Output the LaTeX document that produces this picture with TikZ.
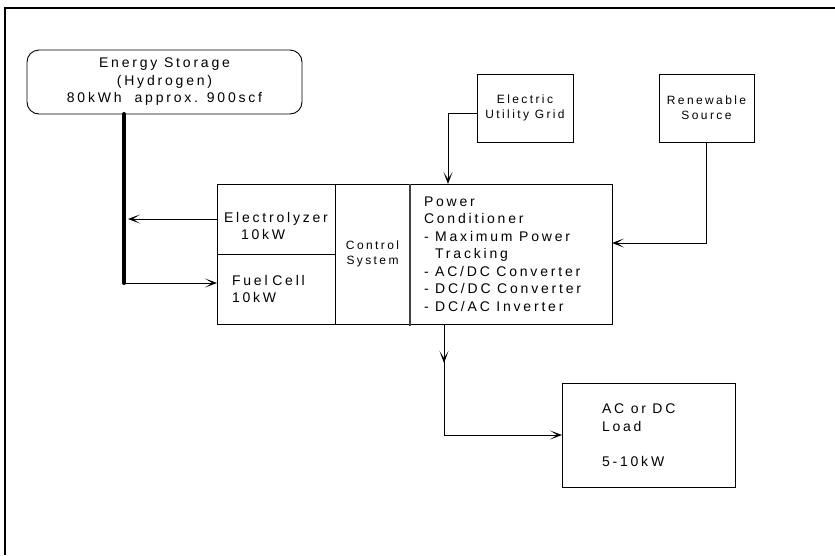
\documentclass[tikz,border=0pt]{standalone}
\usepackage{fontspec}
\setmainfont{Liberation Sans}[LetterSpace=20]
\usetikzlibrary{positioning,arrows.meta}

\newcommand{\bigtext}{\fontsize{14}{17.5}\selectfont}
\newcommand{\smalltext}{\fontsize{12}{15}\selectfont}
\newcommand{\widesp}{\spaceskip=6.5pt plus 1pt\relax}

\tikzset{
  block/.style={draw, line width=0.9pt, outer sep=0pt, inner ysep=2pt},
  arr/.style={line width=0.9pt, -{Stealth[length=12pt,width=9pt,inset=7pt]}},
}

\begin{document}
\begin{tikzpicture}[x=1pt, y=-1pt, font=\bigtext]
  \useasboundingbox (0,0) rectangle (835,555);
  % page frame
  \draw[line width=1.6pt] (835,8) -- (5,8) -- (5,555);

  % sources
  \node[block, rounded corners=12pt, minimum width=275pt, minimum height=64pt, align=center]
    (storage) at (164.5,82) {Energy Storage\\(Hydrogen)\\\widesp 80kWh~~approx. 900scf};
  \node[block, minimum width=96pt, minimum height=68pt, align=center, font=\smalltext]
    (grid) at (525,108) {Electric\\Utility Grid};
  \node[block, minimum width=95pt, minimum height=68pt, align=center, font=\smalltext]
    (renew) at (706.5,108) {Renewable\\Source};

  % main unit
  \node[block, anchor=north west, minimum height=70pt, inner xsep=7pt, text width=104pt, align=left]
    (elec) at (217,184) {\rule{0pt}{24pt}Electrolyzer\\\hspace*{17pt}10kW};
  \node[block, below=0pt of elec, minimum height=70pt, inner xsep=15pt, text width=88pt, align=left]
    (fuel) {Fuel Cell\\10kW};
  \node[block, anchor=north west, minimum height=140pt, inner xsep=2pt, text width=71pt, align=center, font=\smalltext]
    (control) at (elec.north east) {Control\\System};
  \node[block, anchor=north west, minimum height=140pt, inner xsep=14pt, text width=174pt, align=left]
    (cond) at (control.north east) {\widesp Power\\Conditioner\\- Maximum Power\\\phantom{-}\hspace{6.5pt}Tracking\\- AC/DC Converter\\- DC/DC Converter\\- DC/AC Inverter};
  \draw[line width=1.4pt, draw=black!75] (control.north east) -- ([yshift=-2pt]control.south east);

  % load
  \node[block, minimum height=104pt, inner xsep=40pt, text width=93pt, align=left]
    (load) at (648.5,435) {\widesp AC or DC\\Load\\[17.5pt]5-10kW};

  % hydrogen line
  \coordinate (bus) at (124,283);
  \draw[line width=4pt, line cap=round] (storage.south -| bus) -- (bus);
  \draw[arr] (elec.west) -- ([xshift=4pt]elec.west -| bus);
  \draw[arr] (bus) -- (bus -| fuel.west);

  % power flow
  \draw[arr] ([yshift=-5pt]grid.west) -| ([xshift=38pt]cond.north west);
  \draw[arr] (renew.south) |- ([yshift=11pt]cond.east);
  \coordinate (out) at ([xshift=34pt]cond.south west);
  \draw[arr] (out) -- ++(0,39);
  \draw[arr] (out) |- (load.west);
\end{tikzpicture}
\end{document}
